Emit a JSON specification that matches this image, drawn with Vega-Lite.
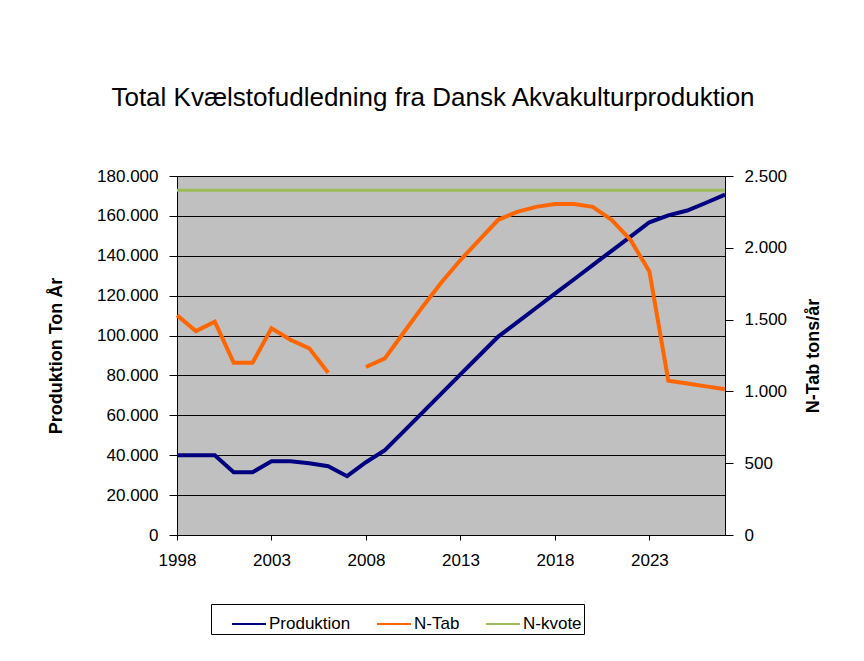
{
  "$schema": "https://vega.github.io/schema/vega-lite/v6.json",
  "autosize": "none",
  "width": 548,
  "height": 359,
  "padding": {"left": 177, "top": 176, "right": 139, "bottom": 126},
  "background": "white",
  "title": {
    "text": "Total Kvælstofudledning fra Dansk Akvakulturproduktion",
    "font": "Liberation Sans",
    "fontSize": 26,
    "fontWeight": "normal",
    "color": "black",
    "anchor": "middle",
    "frame": "group",
    "offset": 56,
    "dx": -18
  },
  "config": {
    "locale": {"number": {"decimal": ",", "thousands": ".", "grouping": [3], "currency": ["", " kr."]}},
    "view": {"fill": "#C0C0C0", "stroke": "#808080", "strokeWidth": 1},
    "font": "Liberation Sans",
    "axis": {
      "labelFont": "Liberation Sans",
      "labelFontSize": 17,
      "labelColor": "black",
      "titleFont": "Liberation Sans",
      "titleFontSize": 18,
      "titleFontWeight": "bold",
      "titleColor": "black",
      "domainColor": "black",
      "domainWidth": 1,
      "tickColor": "black",
      "tickSize": 8,
      "labelPadding": 11
    },
    "legend": {
      "orient": "none",
      "legendX": 34,
      "legendY": 428,
      "direction": "horizontal",
      "strokeColor": "black",
      "fillColor": "white",
      "padding": 2,
      "symbolType": "stroke",
      "symbolSize": 1156,
      "symbolStrokeWidth": 2,
      "labelFont": "Liberation Sans",
      "labelFontSize": 17,
      "labelColor": "black",
      "labelOffset": 2,
      "columnPadding": 22,
      "titleOrient": "left",
      "titleFontSize": 17,
      "titlePadding": 18
    }
  },
  "data": {
    "values": [
      {"year": 1998, "Produktion": 40000, "NTab": 1530, "Nkvote": 2400},
      {"year": 1999, "Produktion": 40000, "NTab": 1420, "Nkvote": 2400},
      {"year": 2000, "Produktion": 40000, "NTab": 1485, "Nkvote": 2400},
      {"year": 2001, "Produktion": 31500, "NTab": 1200, "Nkvote": 2400},
      {"year": 2002, "Produktion": 31500, "NTab": 1200, "Nkvote": 2400},
      {"year": 2003, "Produktion": 37000, "NTab": 1440, "Nkvote": 2400},
      {"year": 2004, "Produktion": 37000, "NTab": 1360, "Nkvote": 2400},
      {"year": 2005, "Produktion": 36000, "NTab": 1300, "Nkvote": 2400},
      {"year": 2006, "Produktion": 34500, "NTab": 1130, "Nkvote": 2400},
      {"year": 2007, "Produktion": 29500, "NTab": null, "Nkvote": 2400},
      {"year": 2008, "Produktion": 36500, "NTab": 1170, "Nkvote": 2400},
      {"year": 2009, "Produktion": 42500, "NTab": 1230, "Nkvote": 2400},
      {"year": 2010, "Produktion": 52000, "NTab": 1410, "Nkvote": 2400},
      {"year": 2011, "Produktion": 61500, "NTab": 1590, "Nkvote": 2400},
      {"year": 2012, "Produktion": 71000, "NTab": 1760, "Nkvote": 2400},
      {"year": 2013, "Produktion": 80500, "NTab": 1915, "Nkvote": 2400},
      {"year": 2014, "Produktion": 90000, "NTab": 2055, "Nkvote": 2400},
      {"year": 2015, "Produktion": 99500, "NTab": 2195, "Nkvote": 2400},
      {"year": 2016, "Produktion": 106600, "NTab": 2250, "Nkvote": 2400},
      {"year": 2017, "Produktion": 113800, "NTab": 2285, "Nkvote": 2400},
      {"year": 2018, "Produktion": 121000, "NTab": 2305, "Nkvote": 2400},
      {"year": 2019, "Produktion": 128100, "NTab": 2305, "Nkvote": 2400},
      {"year": 2020, "Produktion": 135300, "NTab": 2285, "Nkvote": 2400},
      {"year": 2021, "Produktion": 142500, "NTab": 2195, "Nkvote": 2400},
      {"year": 2022, "Produktion": 149600, "NTab": 2055, "Nkvote": 2400},
      {"year": 2023, "Produktion": 156800, "NTab": 1835, "Nkvote": 2400},
      {"year": 2024, "Produktion": 160300, "NTab": 1075, "Nkvote": 2400},
      {"year": 2025, "Produktion": 162700, "NTab": 1055, "Nkvote": 2400},
      {"year": 2026, "Produktion": 166600, "NTab": 1035, "Nkvote": 2400},
      {"year": 2027, "Produktion": 170700, "NTab": 1015, "Nkvote": 2400}
    ]
  },
  "encoding": {
    "x": {
      "field": "year",
      "type": "quantitative",
      "scale": {"domain": [1998, 2027], "nice": false, "zero": false},
      "axis": {
        "title": null,
        "values": [1998, 2003, 2008, 2013, 2018, 2023],
        "format": "d",
        "grid": false,
        "labelFlush": false,
        "tickSize": 5,
        "labelPadding": 12
      }
    }
  },
  "layer": [
    {
      "mark": {"type": "line", "strokeWidth": 4},
      "encoding": {
        "y": {
          "field": "Produktion",
          "type": "quantitative",
          "scale": {"domain": [0, 180000], "nice": false},
          "axis": {
            "title": "Produktion Ton År",
            "values": [0, 20000, 40000, 60000, 80000, 100000, 120000, 140000, 160000, 180000],
            "format": ",d",
            "grid": true,
            "gridColor": "black",
            "gridWidth": 1,
            "gridOpacity": 1,
            "titlePadding": 31
          }
        },
        "color": {
          "datum": "Produktion",
          "type": "nominal",
          "scale": {"domain": ["Produktion", "N-Tab", "N-kvote"], "range": ["#000080", "#FF6600", "#9BBB59"]},
          "legend": {"title": " ", "labelExpr": "datum.value == 'N-kvote' ? 'N-kvote\u2003\u2003' : datum.value"}
        }
      }
    },
    {
      "layer": [
        {
          "mark": {"type": "line", "strokeWidth": 3},
          "encoding": {
            "y": {
              "field": "Nkvote",
              "type": "quantitative",
              "scale": {"domain": [0, 2500], "nice": false},
              "axis": {
                "orient": "right",
                "title": "N-Tab tons/år",
                "titleAngle": 270,
                "titleBaseline": "top",
                "values": [0, 500, 1000, 1500, 2000, 2500],
                "format": ",d",
                "grid": false,
                "titlePadding": 18
              }
            },
            "color": {"datum": "N-kvote", "type": "nominal"}
          }
        },
        {
          "mark": {"type": "line", "strokeWidth": 4, "invalid": "break-paths-show-domains"},
          "encoding": {
            "y": {"field": "NTab", "type": "quantitative"},
            "color": {"datum": "N-Tab", "type": "nominal"}
          }
        }
      ]
    }
  ],
  "resolve": {"scale": {"y": "independent"}}
}
